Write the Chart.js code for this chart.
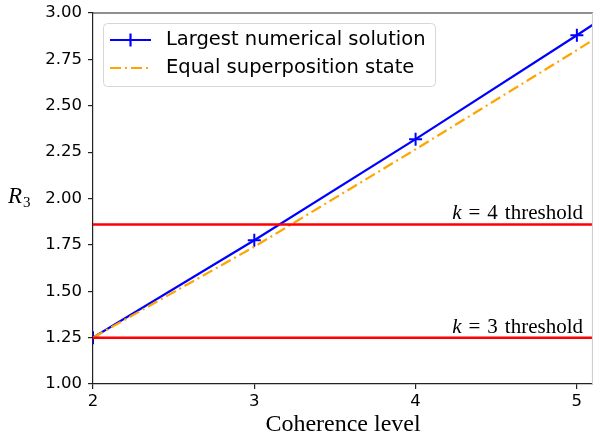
<!DOCTYPE html>
<html lang="en">
<head>
<meta charset="UTF-8">
<script src="https://cdn.jsdelivr.net/npm/chart.js@4.4.0/dist/chart.umd.min.js"></script>
<title>R3 vs coherence level</title>
<style>
  body { margin: 0; background: #fff; }
  canvas { display: block; }
</style>
</head>
<body>
<canvas id="chart" width="593" height="439"></canvas>
<script>
// values
const coherenceLevels = [2, 3, 4, 5, 6];
const largestSolution = [1.25, 1.775, 2.32, 2.88, 3.455];
const equalSuperposition = [1.25, 1.74, 2.265, 2.80, 3.345];
const thresholdX = [2, 6];
const thresholdK3 = [1.25, 1.25];
const thresholdK4 = [1.86, 1.86];
const xTicks = [2, 3, 4, 5];
const yTicks = [1.00, 1.25, 1.50, 1.75, 2.00, 2.25, 2.50, 2.75, 3.00];

const tickFont = { family: 'DejaVu Sans', size: 16.5 };
const serif = 'Liberation Serif';
const spine = '#222';

const pts = (xs, ys) => xs.map((x, i) => ({ x: x, y: ys[i] }));

// extra labels, legend box and top/right spines
const decorations = {
  id: 'decorations',
  afterDraw(chart) {
    const ctx = chart.ctx;
    const area = chart.chartArea;
    const yScale = chart.scales.y;
    ctx.save();

    // top and right spines
    ctx.strokeStyle = spine;
    ctx.lineWidth = 1.2;
    ctx.beginPath();
    ctx.moveTo(area.left, area.top);
    ctx.lineTo(area.right, area.top);
    ctx.stroke();
    ctx.strokeStyle = '#cfcfcf';
    ctx.beginPath();
    ctx.moveTo(area.right - 0.5, area.top);
    ctx.lineTo(area.right - 0.5, area.bottom);
    ctx.stroke();

    // y label R_3
    ctx.fillStyle = '#000';
    ctx.textBaseline = 'alphabetic';
    ctx.textAlign = 'left';
    ctx.font = 'italic 23px ' + serif;
    ctx.fillText('R', 8, 203);
    const rw = ctx.measureText('R').width;
    ctx.font = '15px ' + serif;
    ctx.fillText('3', 8 + rw + 1, 207);

    // threshold labels
    const thresholdLabel = (k, value) => {
      const y = yScale.getPixelForValue(value) - 5;
      const rest = '\u2004=\u2004' + k + '\u2004threshold';
      ctx.font = '21px ' + serif;
      const restW = ctx.measureText(rest).width;
      ctx.font = 'italic 21px ' + serif;
      const kW = ctx.measureText('k').width;
      const right = area.right - 10;
      ctx.fillText('k', right - restW - kW, y);
      ctx.font = '21px ' + serif;
      ctx.fillText(rest, right - restW, y);
    };
    thresholdLabel(4, thresholdK4[0]);
    thresholdLabel(3, thresholdK3[0]);

    // legend box
    const bx = 103.5, by = 23.5, bw = 332, bh = 63;
    ctx.beginPath();
    ctx.roundRect(bx, by, bw, bh, 4);
    ctx.fillStyle = 'rgba(255,255,255,0.85)';
    ctx.fill();
    ctx.strokeStyle = '#d6d6d6';
    ctx.lineWidth = 1;
    ctx.stroke();

    ctx.lineWidth = 2.2;
    // blue entry
    ctx.strokeStyle = 'blue';
    ctx.beginPath();
    ctx.moveTo(110, 40); ctx.lineTo(151, 40);
    ctx.moveTo(130.5, 33.5); ctx.lineTo(130.5, 46.5);
    ctx.stroke();
    // orange entry
    ctx.strokeStyle = 'orange';
    ctx.setLineDash([11, 4, 2, 4]);
    ctx.beginPath();
    ctx.moveTo(110, 68); ctx.lineTo(151, 68);
    ctx.stroke();
    ctx.setLineDash([]);

    ctx.fillStyle = '#000';
    ctx.font = '19.5px DejaVu Sans';
    ctx.textBaseline = 'middle';
    ctx.fillText('Largest numerical solution', 166, 40);
    ctx.fillText('Equal superposition state', 166, 68);

    ctx.restore();
  }
};

new Chart(document.getElementById('chart'), {
  type: 'line',
  data: {
    datasets: [
      {
        label: 'k = 4 threshold',
        data: pts(thresholdX, thresholdK4),
        borderColor: 'red', borderWidth: 2.5, pointRadius: 0, order: 0
      },
      {
        label: 'k = 3 threshold',
        data: pts(thresholdX, thresholdK3),
        borderColor: 'red', borderWidth: 2.5, pointRadius: 0, order: 0
      },
      {
        label: 'Equal superposition state',
        data: pts(coherenceLevels, equalSuperposition),
        borderColor: 'orange', borderWidth: 2.2, borderDash: [11, 4, 2, 4],
        pointRadius: 0, order: 1
      },
      {
        label: 'Largest numerical solution',
        data: pts(coherenceLevels, largestSolution),
        borderColor: 'blue', borderWidth: 2.2,
        pointStyle: 'cross', pointRadius: 6.5, pointBorderWidth: 2,
        pointBorderColor: 'blue', order: 2
      }
    ]
  },
  options: {
    responsive: false,
    animation: false,
    layout: { autoPadding: false, padding: { left: 0, top: 13, right: 0, bottom: 0 } },
    plugins: { legend: { display: false }, tooltip: { enabled: false } },
    elements: { line: { tension: 0, fill: false } },
    scales: {
      x: {
        type: 'linear',
        min: 2, max: 5.1,
        afterBuildTicks: s => { s.ticks = xTicks.map(v => ({ value: v })); },
        afterFit: s => { s.height = 55; s.paddingLeft = 0; s.paddingRight = 0; },
        grid: { drawOnChartArea: false, tickLength: 5, color: spine, lineWidth: 1.2 },
        border: { color: spine, width: 1.2 },
        ticks: { font: tickFont, color: '#000', padding: 3, maxRotation: 0 },
        title: {
          display: true, text: 'Coherence level', color: '#000',
          font: { family: serif, size: 24 }, padding: { top: 0, bottom: 0 }
        }
      },
      y: {
        min: 1, max: 3,
        afterBuildTicks: s => { s.ticks = yTicks.map(v => ({ value: v })); },
        afterFit: s => { s.width = 93; s.paddingTop = 0; s.paddingBottom = 0; },
        grid: { drawOnChartArea: false, tickLength: 5, color: spine, lineWidth: 1.2 },
        border: { color: spine, width: 1.2 },
        ticks: { font: tickFont, color: '#000', padding: 6, callback: v => v.toFixed(2) }
      }
    }
  },
  plugins: [decorations]
});
</script>
</body>
</html>
